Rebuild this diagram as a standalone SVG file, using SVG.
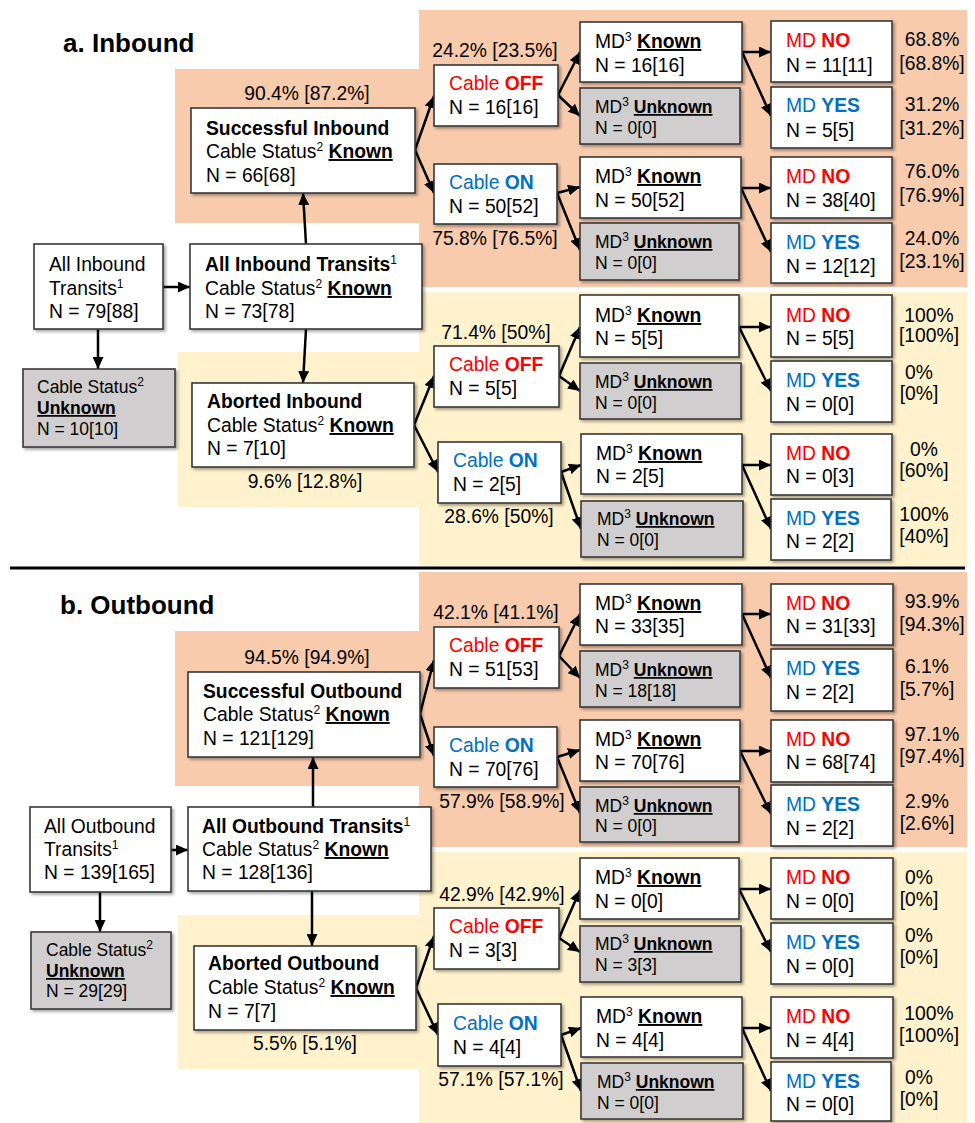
<svg xmlns="http://www.w3.org/2000/svg" width="975" height="1123" viewBox="0 0 975 1123">
<defs>
<style>
.t{font-family:"Liberation Sans",Arial,sans-serif;font-size:19.3px;fill:#000}
.s{font-size:17.5px}
.b{font-weight:bold}
.u{text-decoration:underline}
.sup{font-size:12px}
.red{fill:#FF0000}
.blue{fill:#0070C0}
.title{font-family:"Liberation Sans",Arial,sans-serif;font-size:26px;font-weight:bold;fill:#000}
.box{fill:#fff;stroke:#3a3a3a;stroke-width:1.6;filter:url(#sh)}
.gbox{fill:#D0CECE;stroke:#3a3a3a;stroke-width:1.6;filter:url(#sh)}
.pc{text-anchor:middle}
.salmon{fill:#F8CBAD}
.yellow{fill:#FFF2CC}
#connectors line{stroke:#000;stroke-width:2.5;marker-end:url(#ah)}
</style>
<filter id="sh" x="-10%" y="-10%" width="130%" height="140%">
<feDropShadow dx="2" dy="2" stdDeviation="1.5" flood-color="#000" flood-opacity="0.35"/>
</filter>
<marker id="ah" markerUnits="userSpaceOnUse" markerWidth="12" markerHeight="11" viewBox="0 0 12 11" refX="12" refY="5.5" orient="auto">
<path d="M0,0 L12,5.5 L0,11 z" fill="#000"/>
</marker>
</defs>
<rect width="975" height="1123" fill="#fff"/>

<g id="backgrounds">
<path class="salmon" d="M175,69 H419 V10 H967 V287 H419 V223 H175 Z"/>
<path class="yellow" d="M178,352 H419 V292 H967 V566 H419 V507 H178 Z"/>
<path class="salmon" d="M175,631 H419 V572 H967 V847 H419 V786 H175 Z"/>
<path class="yellow" d="M178,915 H419 V852 H967 V1123 H419 V1069 H178 Z"/>
<line x1="10" y1="568" x2="965" y2="568" stroke="#000" stroke-width="3"/>
</g>

<text class="title" x="63" y="52">a. Inbound</text>
<text class="title" x="60" y="614">b. Outbound</text>

<g id="connectors">
<line x1="163" y1="287" x2="190" y2="287"/>
<line x1="98" y1="329" x2="98" y2="369"/>
<line x1="306" y1="244" x2="303" y2="193"/>
<line x1="306" y1="329" x2="303" y2="383"/>
<line x1="415" y1="150" x2="434" y2="96"/>
<line x1="415" y1="150" x2="434" y2="193"/>
<line x1="558" y1="95" x2="580" y2="52"/>
<line x1="558" y1="95" x2="580" y2="116"/>
<line x1="742" y1="52" x2="771" y2="52"/>
<line x1="742" y1="52" x2="771" y2="116"/>
<line x1="557" y1="193" x2="580" y2="187"/>
<line x1="557" y1="193" x2="580" y2="250"/>
<line x1="741" y1="188" x2="771" y2="188"/>
<line x1="741" y1="188" x2="771" y2="252"/>
<line x1="414" y1="425" x2="434" y2="376"/>
<line x1="414" y1="425" x2="438" y2="472"/>
<line x1="559" y1="376" x2="580" y2="327"/>
<line x1="559" y1="376" x2="580" y2="391"/>
<line x1="739" y1="327" x2="771" y2="327"/>
<line x1="739" y1="327" x2="771" y2="391"/>
<line x1="561" y1="472" x2="581" y2="465"/>
<line x1="561" y1="472" x2="581" y2="529"/>
<line x1="742" y1="465" x2="771" y2="465"/>
<line x1="742" y1="465" x2="771" y2="529"/>

<line x1="171" y1="850" x2="188" y2="850"/>
<line x1="100" y1="892" x2="100" y2="932"/>
<line x1="313" y1="807" x2="313" y2="757"/>
<line x1="312" y1="891" x2="312" y2="946"/>
<line x1="420" y1="714" x2="434" y2="660"/>
<line x1="420" y1="714" x2="434" y2="756"/>
<line x1="559" y1="656" x2="580" y2="614"/>
<line x1="559" y1="656" x2="580" y2="678"/>
<line x1="742" y1="614" x2="771" y2="614"/>
<line x1="742" y1="614" x2="771" y2="678"/>
<line x1="557" y1="757" x2="580" y2="750"/>
<line x1="557" y1="757" x2="580" y2="813"/>
<line x1="740" y1="751" x2="771" y2="751"/>
<line x1="740" y1="751" x2="771" y2="814"/>
<line x1="416" y1="988" x2="434" y2="936"/>
<line x1="416" y1="988" x2="438" y2="1035"/>
<line x1="559" y1="938" x2="580" y2="890"/>
<line x1="559" y1="938" x2="580" y2="952"/>
<line x1="739" y1="889" x2="771" y2="889"/>
<line x1="739" y1="889" x2="771" y2="952"/>
<line x1="561" y1="1035" x2="581" y2="1028"/>
<line x1="561" y1="1035" x2="581" y2="1091"/>
<line x1="742" y1="1028" x2="771" y2="1028"/>
<line x1="742" y1="1028" x2="771" y2="1091"/>
</g>

<!-- ===== Section a ===== -->
<g id="a-all">
<rect class="box" x="34" y="244" width="129" height="85"/>
<text class="t" x="49" y="271">All Inbound</text>
<text class="t" x="49" y="295">Transits<tspan class="sup" dy="-7">1</tspan></text>
<text class="t" x="49" y="318">N = 79[88]</text>
</g>
<g id="a-known">
<rect class="box" x="190" y="244" width="232" height="85"/>
<text class="t" x="205" y="271"><tspan class="b">All Inbound Transits</tspan><tspan class="sup" dy="-7">1</tspan></text>
<text class="t" x="205" y="295">Cable Status<tspan class="sup" dy="-7">2</tspan> <tspan class="b u" dy="7">Known</tspan></text>
<text class="t" x="205" y="318">N = 73[78]</text>
</g>
<g id="a-unknown">
<rect class="gbox" x="23" y="369" width="152" height="78"/>
<text class="t s" x="37" y="393">Cable Status<tspan class="sup" dy="-7">2</tspan></text>
<text class="t s b u" x="37" y="414">Unknown</text>
<text class="t s" x="37" y="435">N = 10[10]</text>
</g>
<g id="a-succ">
<rect class="box" x="191" y="108" width="224" height="85"/>
<text class="t b" x="206" y="135">Successful Inbound</text>
<text class="t" x="206" y="158">Cable Status<tspan class="sup" dy="-7">2</tspan> <tspan class="b u" dy="7">Known</tspan></text>
<text class="t" x="206" y="182">N = 66[68]</text>
</g>
<g id="a-abort">
<rect class="box" x="192" y="383" width="222" height="84"/>
<text class="t b" x="207" y="408">Aborted Inbound</text>
<text class="t" x="207" y="432">Cable Status<tspan class="sup" dy="-7">2</tspan> <tspan class="b u" dy="7">Known</tspan></text>
<text class="t" x="207" y="455">N = 7[10]</text>
</g>

<g id="a-s-off">
<rect class="box" x="434" y="65" width="124" height="61"/>
<text class="t red" x="449" y="90">Cable <tspan class="b">OFF</tspan></text>
<text class="t" x="449" y="114">N = 16[16]</text>
</g>
<g id="a-s-off-k">
<rect class="box" x="580" y="22" width="162" height="60"/>
<text class="t" x="595" y="48">MD<tspan class="sup" dy="-7">3</tspan> <tspan class="b u" dy="7">Known</tspan></text>
<text class="t" x="595" y="72">N = 16[16]</text>
</g>
<g id="a-s-off-u">
<rect class="gbox" x="580" y="88" width="160" height="56"/>
<text class="t s" x="595" y="113">MD<tspan class="sup" dy="-7">3</tspan> <tspan class="b u" dy="7">Unknown</tspan></text>
<text class="t s" x="595" y="134">N = 0[0]</text>
</g>
<g id="a-s-off-no">
<rect class="box" x="771" y="21" width="121" height="61"/>
<text class="t red" x="786" y="47">MD <tspan class="b">NO</tspan></text>
<text class="t" x="786" y="72">N = 11[11]</text>
</g>
<g id="a-s-off-yes">
<rect class="box" x="771" y="87" width="121" height="61"/>
<text class="t blue" x="786" y="112">MD <tspan class="b">YES</tspan></text>
<text class="t" x="786" y="137">N = 5[5]</text>
</g>
<g id="a-s-on">
<rect class="box" x="434" y="164" width="123" height="60"/>
<text class="t blue" x="449" y="189">Cable <tspan class="b">ON</tspan></text>
<text class="t" x="449" y="213">N = 50[52]</text>
</g>
<g id="a-s-on-k">
<rect class="box" x="580" y="157" width="161" height="61"/>
<text class="t" x="595" y="183">MD<tspan class="sup" dy="-7">3</tspan> <tspan class="b u" dy="7">Known</tspan></text>
<text class="t" x="595" y="207">N = 50[52]</text>
</g>
<g id="a-s-on-u">
<rect class="gbox" x="580" y="223" width="159" height="57"/>
<text class="t s" x="595" y="248">MD<tspan class="sup" dy="-7">3</tspan> <tspan class="b u" dy="7">Unknown</tspan></text>
<text class="t s" x="595" y="269">N = 0[0]</text>
</g>
<g id="a-s-on-no">
<rect class="box" x="771" y="157" width="121" height="61"/>
<text class="t red" x="786" y="183">MD <tspan class="b">NO</tspan></text>
<text class="t" x="786" y="207">N = 38[40]</text>
</g>
<g id="a-s-on-yes">
<rect class="box" x="771" y="223" width="121" height="60"/>
<text class="t blue" x="786" y="249">MD <tspan class="b">YES</tspan></text>
<text class="t" x="786" y="273">N = 12[12]</text>
</g>

<g id="a-a-off">
<rect class="box" x="434" y="346" width="125" height="61"/>
<text class="t red" x="449" y="371">Cable <tspan class="b">OFF</tspan></text>
<text class="t" x="449" y="395">N = 5[5]</text>
</g>
<g id="a-a-off-k">
<rect class="box" x="580" y="295" width="159" height="62"/>
<text class="t" x="595" y="322">MD<tspan class="sup" dy="-7">3</tspan> <tspan class="b u" dy="7">Known</tspan></text>
<text class="t" x="595" y="345">N = 5[5]</text>
</g>
<g id="a-a-off-u">
<rect class="gbox" x="580" y="363" width="161" height="56"/>
<text class="t s" x="595" y="388">MD<tspan class="sup" dy="-7">3</tspan> <tspan class="b u" dy="7">Unknown</tspan></text>
<text class="t s" x="595" y="409">N = 0[0]</text>
</g>
<g id="a-a-off-no">
<rect class="box" x="771" y="295" width="121" height="62"/>
<text class="t red" x="786" y="322">MD <tspan class="b">NO</tspan></text>
<text class="t" x="786" y="345">N = 5[5]</text>
</g>
<g id="a-a-off-yes">
<rect class="box" x="771" y="361" width="121" height="61"/>
<text class="t blue" x="786" y="387">MD <tspan class="b">YES</tspan></text>
<text class="t" x="786" y="411">N = 0[0]</text>
</g>
<g id="a-a-on">
<rect class="box" x="438" y="442" width="123" height="61"/>
<text class="t blue" x="453" y="467">Cable <tspan class="b">ON</tspan></text>
<text class="t" x="453" y="491">N = 2[5]</text>
</g>
<g id="a-a-on-k">
<rect class="box" x="581" y="434" width="161" height="60"/>
<text class="t" x="596" y="460">MD<tspan class="sup" dy="-7">3</tspan> <tspan class="b u" dy="7">Known</tspan></text>
<text class="t" x="596" y="483">N = 2[5]</text>
</g>
<g id="a-a-on-u">
<rect class="gbox" x="581" y="501" width="162" height="56"/>
<text class="t s" x="597" y="525">MD<tspan class="sup" dy="-7">3</tspan> <tspan class="b u" dy="7">Unknown</tspan></text>
<text class="t s" x="597" y="546">N = 0[0]</text>
</g>
<g id="a-a-on-no">
<rect class="box" x="771" y="434" width="121" height="61"/>
<text class="t red" x="786" y="460">MD <tspan class="b">NO</tspan></text>
<text class="t" x="786" y="483">N = 0[3]</text>
</g>
<g id="a-a-on-yes">
<rect class="box" x="771" y="499" width="120" height="61"/>
<text class="t blue" x="786" y="525">MD <tspan class="b">YES</tspan></text>
<text class="t" x="786" y="548">N = 2[2]</text>
</g>

<!-- ===== Section b ===== -->
<g id="b-all">
<rect class="box" x="30" y="807" width="141" height="85"/>
<text class="t" x="44" y="833">All Outbound</text>
<text class="t" x="44" y="856">Transits<tspan class="sup" dy="-7">1</tspan></text>
<text class="t" x="44" y="879">N = 139[165]</text>
</g>
<g id="b-known">
<rect class="box" x="188" y="807" width="243" height="84"/>
<text class="t" x="202" y="833"><tspan class="b">All Outbound Transits</tspan><tspan class="sup" dy="-7">1</tspan></text>
<text class="t" x="202" y="856">Cable Status<tspan class="sup" dy="-7">2</tspan> <tspan class="b u" dy="7">Known</tspan></text>
<text class="t" x="202" y="879">N = 128[136]</text>
</g>
<g id="b-unknown">
<rect class="gbox" x="31" y="932" width="140" height="77"/>
<text class="t s" x="46" y="956">Cable Status<tspan class="sup" dy="-7">2</tspan></text>
<text class="t s b u" x="46" y="977">Unknown</text>
<text class="t s" x="46" y="997">N = 29[29]</text>
</g>
<g id="b-succ">
<rect class="box" x="188" y="672" width="232" height="85"/>
<text class="t b" x="203" y="698">Successful Outbound</text>
<text class="t" x="203" y="721">Cable Status<tspan class="sup" dy="-7">2</tspan> <tspan class="b u" dy="7">Known</tspan></text>
<text class="t" x="203" y="745">N = 121[129]</text>
</g>
<g id="b-abort">
<rect class="box" x="194" y="946" width="222" height="84"/>
<text class="t b" x="208" y="970">Aborted Outbound</text>
<text class="t" x="208" y="994">Cable Status<tspan class="sup" dy="-7">2</tspan> <tspan class="b u" dy="7">Known</tspan></text>
<text class="t" x="208" y="1018">N = 7[7]</text>
</g>

<g id="b-s-off">
<rect class="box" x="434" y="627" width="125" height="61"/>
<text class="t red" x="449" y="652">Cable <tspan class="b">OFF</tspan></text>
<text class="t" x="449" y="676">N = 51[53]</text>
</g>
<g id="b-s-off-k">
<rect class="box" x="580" y="584" width="162" height="61"/>
<text class="t" x="595" y="610">MD<tspan class="sup" dy="-7">3</tspan> <tspan class="b u" dy="7">Known</tspan></text>
<text class="t" x="595" y="633">N = 33[35]</text>
</g>
<g id="b-s-off-u">
<rect class="gbox" x="580" y="651" width="160" height="56"/>
<text class="t s" x="595" y="676">MD<tspan class="sup" dy="-7">3</tspan> <tspan class="b u" dy="7">Unknown</tspan></text>
<text class="t s" x="595" y="697">N = 18[18]</text>
</g>
<g id="b-s-off-no">
<rect class="box" x="771" y="584" width="122" height="61"/>
<text class="t red" x="786" y="610">MD <tspan class="b">NO</tspan></text>
<text class="t" x="786" y="633">N = 31[33]</text>
</g>
<g id="b-s-off-yes">
<rect class="box" x="771" y="649" width="122" height="62"/>
<text class="t blue" x="786" y="675">MD <tspan class="b">YES</tspan></text>
<text class="t" x="786" y="699">N = 2[2]</text>
</g>
<g id="b-s-on">
<rect class="box" x="434" y="727" width="123" height="60"/>
<text class="t blue" x="449" y="752">Cable <tspan class="b">ON</tspan></text>
<text class="t" x="449" y="776">N = 70[76]</text>
</g>
<g id="b-s-on-k">
<rect class="box" x="580" y="720" width="160" height="61"/>
<text class="t" x="595" y="746">MD<tspan class="sup" dy="-7">3</tspan> <tspan class="b u" dy="7">Known</tspan></text>
<text class="t" x="595" y="769">N = 70[76]</text>
</g>
<g id="b-s-on-u">
<rect class="gbox" x="580" y="787" width="159" height="55"/>
<text class="t s" x="595" y="812">MD<tspan class="sup" dy="-7">3</tspan> <tspan class="b u" dy="7">Unknown</tspan></text>
<text class="t s" x="595" y="832">N = 0[0]</text>
</g>
<g id="b-s-on-no">
<rect class="box" x="771" y="720" width="122" height="62"/>
<text class="t red" x="786" y="746">MD <tspan class="b">NO</tspan></text>
<text class="t" x="786" y="769">N = 68[74]</text>
</g>
<g id="b-s-on-yes">
<rect class="box" x="771" y="785" width="122" height="61"/>
<text class="t blue" x="786" y="811">MD <tspan class="b">YES</tspan></text>
<text class="t" x="786" y="835">N = 2[2]</text>
</g>

<g id="b-a-off">
<rect class="box" x="434" y="908" width="125" height="61"/>
<text class="t red" x="449" y="933">Cable <tspan class="b">OFF</tspan></text>
<text class="t" x="449" y="957">N = 3[3]</text>
</g>
<g id="b-a-off-k">
<rect class="box" x="580" y="858" width="159" height="61"/>
<text class="t" x="595" y="884">MD<tspan class="sup" dy="-7">3</tspan> <tspan class="b u" dy="7">Known</tspan></text>
<text class="t" x="595" y="908">N = 0[0]</text>
</g>
<g id="b-a-off-u">
<rect class="gbox" x="580" y="926" width="161" height="56"/>
<text class="t s" x="595" y="950">MD<tspan class="sup" dy="-7">3</tspan> <tspan class="b u" dy="7">Unknown</tspan></text>
<text class="t s" x="595" y="971">N = 3[3]</text>
</g>
<g id="b-a-off-no">
<rect class="box" x="771" y="858" width="122" height="61"/>
<text class="t red" x="786" y="884">MD <tspan class="b">NO</tspan></text>
<text class="t" x="786" y="908">N = 0[0]</text>
</g>
<g id="b-a-off-yes">
<rect class="box" x="771" y="923" width="122" height="61"/>
<text class="t blue" x="786" y="949">MD <tspan class="b">YES</tspan></text>
<text class="t" x="786" y="973">N = 0[0]</text>
</g>
<g id="b-a-on">
<rect class="box" x="438" y="1004" width="123" height="62"/>
<text class="t blue" x="453" y="1030">Cable <tspan class="b">ON</tspan></text>
<text class="t" x="453" y="1054">N = 4[4]</text>
</g>
<g id="b-a-on-k">
<rect class="box" x="581" y="997" width="161" height="60"/>
<text class="t" x="596" y="1023">MD<tspan class="sup" dy="-7">3</tspan> <tspan class="b u" dy="7">Known</tspan></text>
<text class="t" x="596" y="1047">N = 4[4]</text>
</g>
<g id="b-a-on-u">
<rect class="gbox" x="581" y="1063" width="162" height="56"/>
<text class="t s" x="597" y="1088">MD<tspan class="sup" dy="-7">3</tspan> <tspan class="b u" dy="7">Unknown</tspan></text>
<text class="t s" x="597" y="1109">N = 0[0]</text>
</g>
<g id="b-a-on-no">
<rect class="box" x="771" y="997" width="122" height="61"/>
<text class="t red" x="786" y="1023">MD <tspan class="b">NO</tspan></text>
<text class="t" x="786" y="1047">N = 4[4]</text>
</g>
<g id="b-a-on-yes">
<rect class="box" x="771" y="1062" width="120" height="59"/>
<text class="t blue" x="786" y="1088">MD <tspan class="b">YES</tspan></text>
<text class="t" x="786" y="1111">N = 0[0]</text>
</g>

<g id="labels">
<text class="t pc" x="307" y="100">90.4% [87.2%]</text>
<text class="t pc" x="305" y="488">9.6% [12.8%]</text>
<text class="t pc" x="495" y="57">24.2% [23.5%]</text>
<text class="t pc" x="495" y="245">75.8% [76.5%]</text>
<text class="t pc" x="496" y="339">71.4% [50%]</text>
<text class="t pc" x="499" y="523">28.6% [50%]</text>
<text class="t pc" x="307" y="664">94.5% [94.9%]</text>
<text class="t pc" x="305" y="1050">5.5% [5.1%]</text>
<text class="t pc" x="496" y="619">42.1% [41.1%]</text>
<text class="t pc" x="502" y="808">57.9% [58.9%]</text>
<text class="t pc" x="502" y="901">42.9% [42.9%]</text>
<text class="t pc" x="501" y="1086">57.1% [57.1%]</text>

<text class="t pc" x="932" y="46">68.8%</text><text class="t pc" x="932" y="70">[68.8%]</text>
<text class="t pc" x="932" y="111">31.2%</text><text class="t pc" x="932" y="135">[31.2%]</text>
<text class="t pc" x="932" y="178">76.0%</text><text class="t pc" x="932" y="202">[76.9%]</text>
<text class="t pc" x="932" y="245">24.0%</text><text class="t pc" x="932" y="268">[23.1%]</text>
<text class="t pc" x="929" y="322">100%</text><text class="t pc" x="929" y="342">[100%]</text>
<text class="t pc" x="919" y="379">0%</text><text class="t pc" x="919" y="400">[0%]</text>
<text class="t pc" x="924" y="456">0%</text><text class="t pc" x="924" y="477">[60%]</text>
<text class="t pc" x="924" y="521">100%</text><text class="t pc" x="924" y="543">[40%]</text>

<text class="t pc" x="932" y="608">93.9%</text><text class="t pc" x="932" y="631">[94.3%]</text>
<text class="t pc" x="927" y="673">6.1%</text><text class="t pc" x="927" y="696">[5.7%]</text>
<text class="t pc" x="932" y="741">97.1%</text><text class="t pc" x="932" y="763">[97.4%]</text>
<text class="t pc" x="927" y="808">2.9%</text><text class="t pc" x="927" y="830">[2.6%]</text>
<text class="t pc" x="919" y="884">0%</text><text class="t pc" x="919" y="906">[0%]</text>
<text class="t pc" x="919" y="942">0%</text><text class="t pc" x="919" y="964">[0%]</text>
<text class="t pc" x="929" y="1020">100%</text><text class="t pc" x="929" y="1042">[100%]</text>
<text class="t pc" x="919" y="1084">0%</text><text class="t pc" x="919" y="1106">[0%]</text>
</g>
</svg>
